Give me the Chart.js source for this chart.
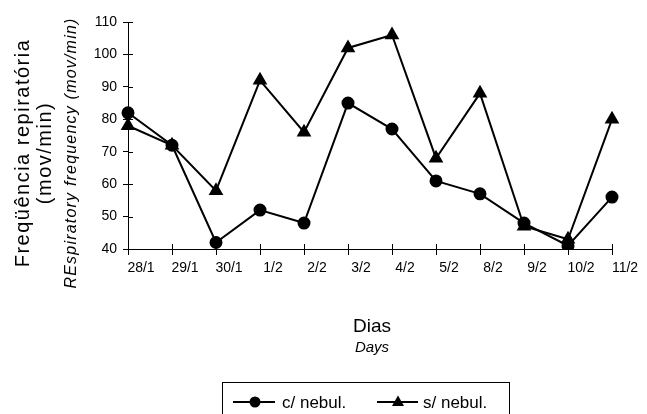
<!DOCTYPE html>
<html lang="pt">
<head>
	<meta charset="UTF-8">
	<title>Frequência respiratória</title>
	<script src="https://cdn.jsdelivr.net/npm/chart.js"></script>
	<style>
		html, body { margin: 0; padding: 0; background: #fff; }
		#wrap { position: relative; width: 647px; height: 414px; }
	</style>
</head>
<body>
	<div id="wrap">
		<canvas id="respChart" width="647" height="414"></canvas>
	</div>
	<script>
	// data
	const days = ['28/1', '29/1', '30/1', '1/2', '2/2', '3/2', '4/2', '5/2', '8/2', '9/2', '10/2', '11/2'];
	const comNebul = [82, 72, 42, 52, 48, 85, 77, 61, 57, 48, 41, 56];
	const semNebul = [78, 72, 58, 92, 76, 102, 106, 68, 88, 47, 43, 80];
	const yTicks = [40, 50, 60, 70, 80, 90, 100, 110];
	const seriesNames = ['c/ nebul.', 's/ nebul.'];

	const FONT = '"Liberation Sans", Arial, sans-serif';

	// inner half of the crossing tick marks
	const innerTicks = {
		id: 'innerTicks',
		afterDatasetsDraw(chart) {
			const { ctx, chartArea, scales } = chart;
			ctx.save();
			ctx.strokeStyle = '#000';
			ctx.lineWidth = 1;
			ctx.beginPath();
			scales.y.ticks.forEach(t => {
				const y = Math.round(scales.y.getPixelForValue(t.value)) + 0.5;
				ctx.moveTo(chartArea.left, y);
				ctx.lineTo(chartArea.left + 5, y);
			});
			days.forEach((d, i) => {
				const x = Math.round(scales.x.getPixelForValue(i)) + 0.5;
				ctx.moveTo(x, chartArea.bottom);
				ctx.lineTo(x, chartArea.bottom - 5);
			});
			ctx.stroke();
			ctx.restore();
		}
	};

	// axis titles and the boxed legend
	const titlesAndLegend = {
		id: 'titlesAndLegend',
		afterDraw(chart) {
			const ctx = chart.ctx;
			ctx.save();
			ctx.fillStyle = '#000';
			ctx.textAlign = 'center';
			ctx.textBaseline = 'middle';

			// y title
			ctx.save();
			ctx.translate(0, 153);
			ctx.rotate(-Math.PI / 2);
			ctx.font = '20px ' + FONT;
			ctx.letterSpacing = '1.5px';
			ctx.fillText('Freqüência repiratória', 0, 23);
			ctx.fillText('(mov/min)', 0, 45);
			ctx.font = 'italic 16px ' + FONT;
			ctx.letterSpacing = '1.2px';
			ctx.fillText('REspiratory frequency (mov/min)', 0, 72);
			ctx.restore();
			ctx.letterSpacing = '0px';

			// x title
			ctx.font = '19px ' + FONT;
			ctx.fillText('Dias', 372, 327);
			ctx.font = 'italic 15px ' + FONT;
			ctx.fillText('Days', 372, 348);

			// legend
			ctx.strokeStyle = '#000';
			ctx.lineWidth = 1;
			ctx.strokeRect(222.5, 382.5, 287, 40);
			const ly = 402;
			ctx.lineWidth = 2;
			ctx.beginPath();
			ctx.moveTo(233, ly); ctx.lineTo(275, ly);
			ctx.moveTo(377, ly); ctx.lineTo(418, ly);
			ctx.stroke();
			ctx.beginPath();
			ctx.arc(255, ly, 5.5, 0, Math.PI * 2);
			ctx.fill();
			ctx.beginPath();
			ctx.moveTo(398, ly - 6.5);
			ctx.lineTo(404, ly + 4);
			ctx.lineTo(392, ly + 4);
			ctx.closePath();
			ctx.fill();
			ctx.textAlign = 'left';
			ctx.font = '17px ' + FONT;
			ctx.fillText(seriesNames[0], 282, ly + 1);
			ctx.fillText(seriesNames[1], 423, ly + 1);
			ctx.restore();
		}
	};

	const ctx = document.getElementById('respChart').getContext('2d');
	new Chart(ctx, {
		type: 'line',
		data: {
			labels: days,
			datasets: [{
				label: seriesNames[0],
				data: comNebul,
				borderColor: '#000',
				backgroundColor: '#000',
				borderWidth: 2,
				pointStyle: 'circle',
				pointRadius: 5.5,
				tension: 0
			}, {
				label: seriesNames[1],
				data: semNebul,
				borderColor: '#000',
				backgroundColor: '#000',
				borderWidth: 2,
				pointStyle: 'triangle',
				pointRadius: 6.5,
				tension: 0
			}]
		},
		options: {
			responsive: false,
			animation: false,
			layout: {
				padding: { top: 22, right: 35, bottom: 0, left: 0 }
			},
			plugins: {
				legend: { display: false },
				tooltip: { enabled: false }
			},
			scales: {
				x: {
					offset: false,
					afterFit: s => { s.height = 165; },
					grid: { drawOnChartArea: false, tickLength: 6, color: '#000' },
					border: { color: '#000', width: 1 },
					ticks: {
						color: '#000',
						font: { family: FONT, size: 14 },
						padding: 5,
						labelOffset: 13,
						maxRotation: 0,
						autoSkip: false
					}
				},
				y: {
					min: 40,
					max: 110,
					afterFit: s => { s.width = 128; },
					afterBuildTicks: s => { s.ticks = yTicks.map(v => ({ value: v })); },
					grid: { drawOnChartArea: false, tickLength: 5, color: '#000' },
					border: { color: '#000', width: 1 },
					ticks: {
						color: '#000',
						font: { family: FONT, size: 14 },
						padding: 6
					}
				}
			}
		},
		plugins: [innerTicks, titlesAndLegend]
	});
	</script>
</body>
</html>
